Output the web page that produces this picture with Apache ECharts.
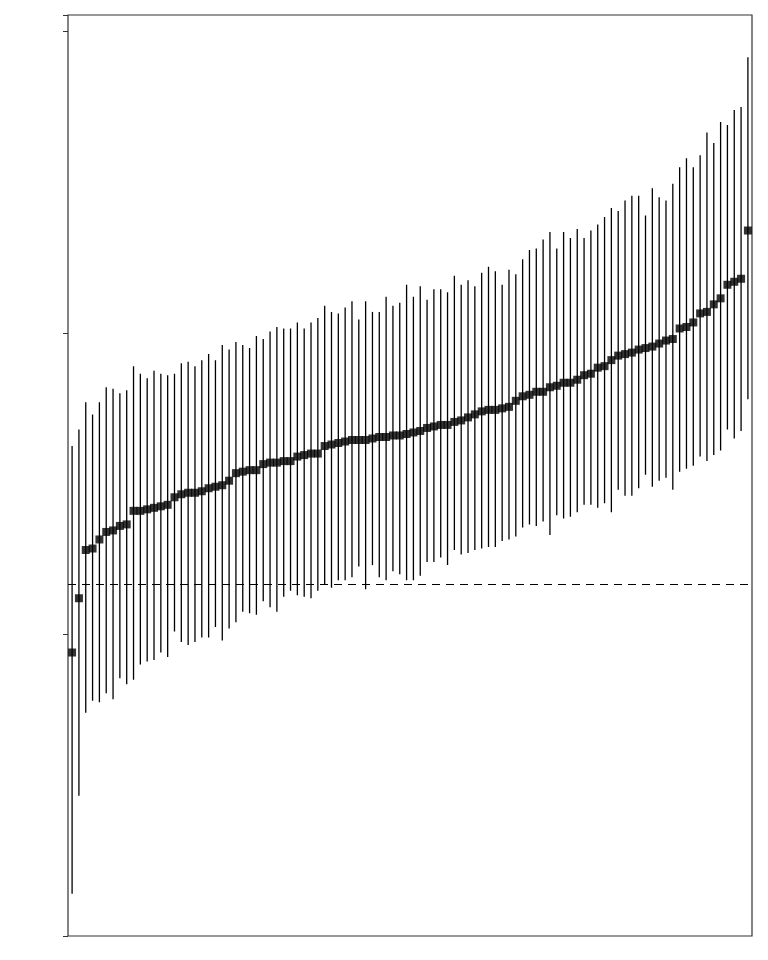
<!DOCTYPE html>
<html><head><meta charset="utf-8">
<script src="https://cdn.jsdelivr.net/npm/echarts@6/dist/echarts.min.js"></script>
<style>html,body{margin:0;padding:0;background:#fff}#c{width:768px;height:960px}</style>
</head><body><div id="c"></div>
<script>
const estimates = [-0.045,-0.009,0.023,0.024,0.03,0.035,0.036,0.039,0.04,0.049,
0.049,0.05,0.051,0.052,0.053,0.058,0.06,0.061,0.061,0.062,
0.064,0.065,0.066,0.069,0.074,0.075,0.076,0.076,0.08,0.081,
0.081,0.082,0.082,0.085,0.086,0.087,0.087,0.092,0.093,0.094,
0.095,0.096,0.096,0.096,0.097,0.098,0.098,0.099,0.099,0.1,
0.101,0.102,0.104,0.105,0.106,0.106,0.108,0.109,0.111,0.113,
0.115,0.116,0.116,0.117,0.118,0.122,0.125,0.126,0.128,0.128,
0.131,0.132,0.134,0.134,0.136,0.139,0.14,0.144,0.145,0.149,
0.152,0.153,0.154,0.156,0.157,0.158,0.16,0.162,0.163,0.17,
0.171,0.174,0.18,0.181,0.186,0.19,0.199,0.201,0.203,0.235];
const upper = [0.092,0.103,0.121,0.113,0.121,0.131,0.130,0.127,0.129,0.145,0.140,0.137,0.142,0.140,0.139,0.140,0.147,0.148,0.145,0.149,0.153,0.149,0.159,0.156,0.161,0.159,0.157,0.165,0.163,
0.168,0.171,0.170,
0.170,0.174,0.170,0.174,0.177,0.185,0.181,0.180,0.184,0.188,0.176,0.188,0.181,0.181,0.191,0.185,0.187,0.199,0.191,0.198,0.189,0.196,0.196,0.194,0.205,0.199,0.202,0.198,0.207,0.211,0.208,0.199,0.209,0.206,
0.216,0.222,0.223,0.229,0.234,0.223,0.234,0.230,0.236,0.230,0.235,0.239,0.244,0.250,0.248,0.255,0.258,0.258,0.245,0.263,0.257,0.255,0.266,0.277,0.283,0.277,0.285,0.300,0.293,0.307,0.305,0.315,0.317,0.350];
const lower = [-0.205,-0.14,-0.085,-0.077,-0.078,-0.072,-0.076,-0.062,-0.066,-0.063,-0.053,-0.051,-0.050,-0.045,-0.048,-0.031,-0.038,-0.040,-0.038,-0.035,-0.035,-0.028,-0.037,-0.029,-0.025,-0.018,-0.019,-0.020,-0.011,-0.015,-0.018,-0.008,
-0.004,-0.007,-0.008,-0.009,-0.004,0.000,-0.002,0.003,0.003,0.005,0.012,-0.003,0.013,0.005,0.003,0.009,0.007,0.003,0.003,0.006,0.015,0.015,0.018,0.013,0.023,0.020,0.021,0.023,0.024,0.025,0.025,0.029,0.030,0.032,0.038,
0.040,0.039,0.042,0.033,0.046,0.044,0.045,0.048,
0.053,0.053,0.051,0.054,0.048,0.063,0.059,0.059,0.064,0.073,0.065,0.069,0.071,0.063,0.075,0.077,0.079,0.085,0.082,0.086,0.089,0.103,0.097,0.102,0.123];
const yTicks = [-0.2, 0.0, 0.2];

const idx = estimates.map((_, i) => i + 1);
const chart = echarts.init(document.getElementById('c'), null, {renderer:'canvas'});
chart.setOption({
  animation:false,
  grid:{left:68,right:16,top:15,bottom:24,show:true,borderColor:'#333',borderWidth:1.2,backgroundColor:'#fff'},
  xAxis:{type:'value',min:0.4,max:100.6,axisLine:{show:false},axisTick:{show:false},axisLabel:{show:false},splitLine:{show:false}},
  yAxis:{type:'value',min:-0.2331,max:0.378,interval:0.2,
    axisLine:{show:false},axisTick:{show:true,length:5,lineStyle:{color:'#333'}},
    axisLabel:{fontSize:17,color:'#4d4d4d',fontFamily:'Liberation Sans, Arial',margin:8,
      formatter:v=>{const r=Math.round(v*10)/10; return yTicks.some(t=>Math.abs(t-r)<1e-9)&&Math.abs(v-r)<1e-6 ? r.toFixed(1):'';}},
    splitLine:{show:false}},
  series:[
    {type:'custom',data:idx.map((x,i)=>[x,lower[i],upper[i]]),
     renderItem:(p,api)=>{const a=api.coord([api.value(0),api.value(1)]),b=api.coord([api.value(0),api.value(2)]);
       return {type:'line',shape:{x1:a[0],y1:a[1],x2:b[0],y2:b[1]},style:{stroke:'#000',lineWidth:1.3}};},
     z:2},
    {type:'scatter',data:idx.map((x,i)=>[x,estimates[i]]),symbol:'rect',symbolSize:8,itemStyle:{color:'#000'},z:3,
     markLine:{silent:true,symbol:'none',label:{show:false},lineStyle:{color:'#000',type:[8,6],width:1.2},data:[{yAxis:0}]}}
  ]
});
</script></body></html>
